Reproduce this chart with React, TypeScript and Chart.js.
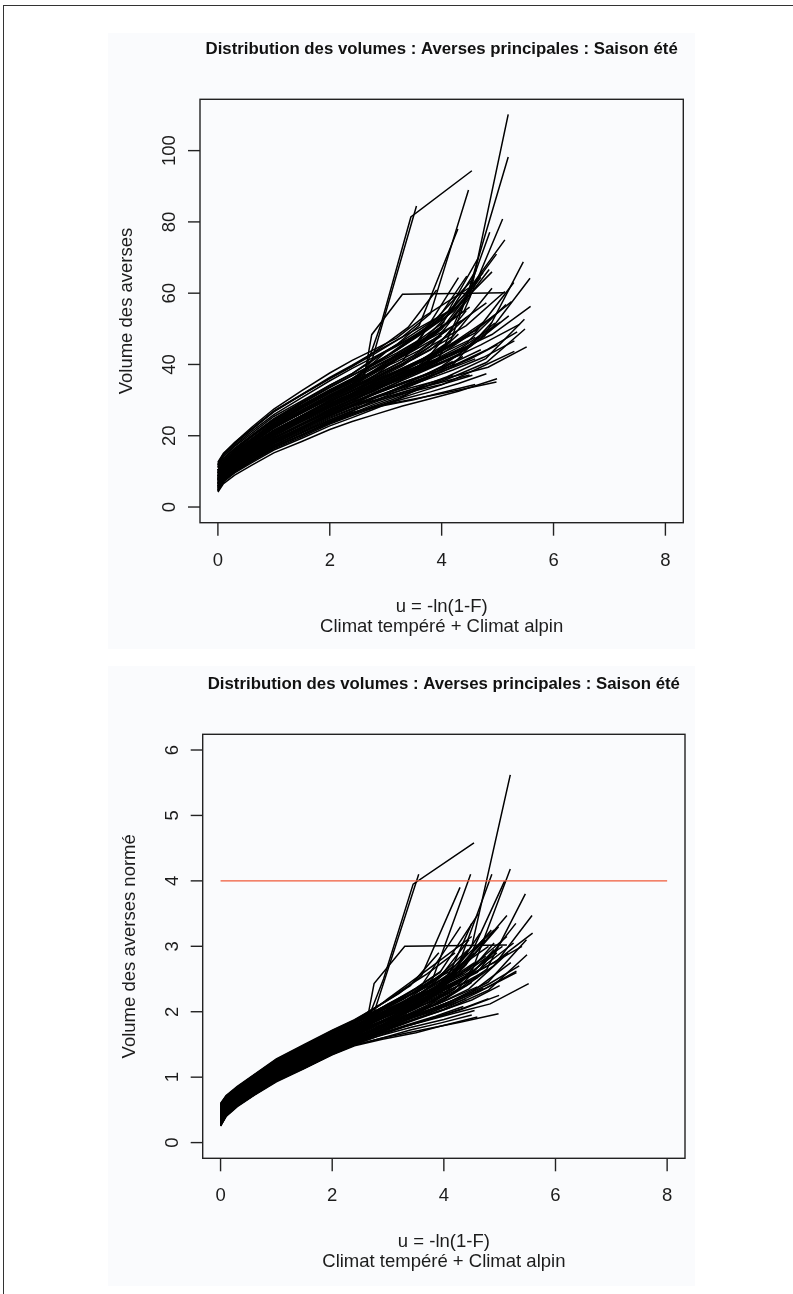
import React, { useEffect, useRef } from 'react';
import { Chart, registerables } from 'chart.js';

Chart.register(...registerables);

// ---------- texts ----------
const TITLE = 'Distribution des volumes : Averses principales : Saison été';
const X_TITLE_LINE1 = 'u = -ln(1-F)';
const X_TITLE_LINE2 = 'Climat tempéré + Climat alpin';
const Y_TITLE_TOP = 'Volume des averses';
const Y_TITLE_BOTTOM = 'Volume des averses normé';

// ---------- ticks / ranges ----------
const X_TICKS = [0, 2, 4, 6, 8];
const Y_TICKS_TOP = [0, 20, 40, 60, 80, 100];
const Y_TICKS_BOTTOM = [0, 1, 2, 3, 4, 5, 6];
const X_RANGE = [-0.32, 8.32];
const Y_RANGE_TOP = [-4.4, 114.4];
const Y_RANGE_BOTTOM = [-0.24, 6.24];
const THRESHOLD_LINE_X = [0, 8];
const THRESHOLD_LINE_Y = 4;

// ---------- data: normed curves (u = -ln(1-F)) ----------
const U_BODY = [0, 0.1, 0.3, 0.6, 1.0, 1.5, 2.0, 2.4];

const NORM_BODY = [
  [0.41, 0.55, 0.70, 0.87, 1.09, 1.31, 1.52, 1.67],
  [0.50, 0.63, 0.77, 0.95, 1.17, 1.39, 1.60, 1.75],
  [0.46, 0.60, 0.74, 0.91, 1.13, 1.35, 1.56, 1.72],
  [0.38, 0.53, 0.68, 0.86, 1.08, 1.30, 1.51, 1.66],
  [0.55, 0.68, 0.82, 1.00, 1.23, 1.45, 1.66, 1.82],
  [0.34, 0.49, 0.64, 0.82, 1.03, 1.24, 1.45, 1.60],
  [0.29, 0.44, 0.59, 0.76, 0.98, 1.18, 1.39, 1.53],
  [0.36, 0.50, 0.65, 0.83, 1.05, 1.26, 1.47, 1.62],
  [0.53, 0.66, 0.80, 0.98, 1.20, 1.42, 1.64, 1.80],
  [0.27, 0.42, 0.57, 0.74, 0.96, 1.16, 1.37, 1.51],
  [0.31, 0.45, 0.60, 0.78, 0.99, 1.20, 1.41, 1.55],
  [0.26, 0.41, 0.56, 0.73, 0.94, 1.14, 1.35, 1.49],
  [0.25, 0.40, 0.55, 0.72, 0.93, 1.13, 1.34, 1.48],
  [0.44, 0.58, 0.72, 0.90, 1.12, 1.33, 1.54, 1.72],
  [0.39, 0.53, 0.67, 0.85, 1.07, 1.28, 1.49, 1.64],
  [0.57, 0.70, 0.84, 1.02, 1.25, 1.47, 1.69, 1.85],
  [0.33, 0.47, 0.62, 0.80, 1.01, 1.22, 1.43, 1.58],
  [0.59, 0.71, 0.85, 1.03, 1.27, 1.49, 1.71, 1.87],
  [0.43, 0.56, 0.71, 0.88, 1.10, 1.31, 1.53, 1.68],
  [0.35, 0.48, 0.64, 0.81, 1.03, 1.24, 1.44, 1.59],
  [0.60, 0.72, 0.86, 1.04, 1.28, 1.50, 1.72, 1.88],
  [0.28, 0.43, 0.58, 0.75, 0.97, 1.17, 1.38, 1.52],
  [0.50, 0.63, 0.76, 0.94, 1.16, 1.38, 1.60, 1.75],
  [0.40, 0.54, 0.69, 0.86, 1.08, 1.30, 1.51, 1.66],
  [0.31, 0.46, 0.61, 0.78, 1.00, 1.20, 1.41, 1.56],
  [0.48, 0.61, 0.75, 0.93, 1.15, 1.37, 1.58, 1.74],
  [0.37, 0.51, 0.65, 0.83, 1.05, 1.26, 1.47, 1.62],
  [0.55, 0.67, 0.81, 0.99, 1.22, 1.44, 1.66, 1.82],
  [0.26, 0.41, 0.56, 0.73, 0.95, 1.15, 1.36, 1.50],
  [0.45, 0.58, 0.72, 0.90, 1.12, 1.34, 1.55, 1.70],
  [0.51, 0.64, 0.78, 0.96, 1.19, 1.40, 1.62, 1.78],
  [0.34, 0.48, 0.63, 0.80, 1.02, 1.23, 1.44, 1.59],
  [0.39, 0.52, 0.67, 0.85, 1.07, 1.28, 1.49, 1.64],
  [0.57, 0.69, 0.83, 1.01, 1.25, 1.47, 1.69, 1.85],
  [0.46, 0.59, 0.73, 0.91, 1.13, 1.35, 1.56, 1.72],
  [0.30, 0.45, 0.60, 0.77, 0.99, 1.19, 1.40, 1.55],
  [0.48, 0.61, 0.75, 0.93, 1.15, 1.37, 1.58, 1.73],
  [0.40, 0.53, 0.68, 0.86, 1.07, 1.29, 1.50, 1.65],
  [0.32, 0.46, 0.61, 0.79, 1.00, 1.21, 1.42, 1.57],
  [0.53, 0.66, 0.80, 0.97, 1.21, 1.42, 1.64, 1.80],
  [0.42, 0.56, 0.70, 0.88, 1.10, 1.32, 1.52, 1.67],
  [0.35, 0.49, 0.63, 0.81, 1.02, 1.24, 1.45, 1.60],
  [0.50, 0.62, 0.77, 0.95, 1.17, 1.39, 1.60, 1.76],
  [0.41, 0.55, 0.69, 0.87, 1.08, 1.30, 1.51, 1.66],
  [0.28, 0.42, 0.57, 0.75, 0.96, 1.16, 1.37, 1.52],
  [0.58, 0.71, 0.85, 1.03, 1.26, 1.48, 1.70, 1.86],
  [0.38, 0.52, 0.66, 0.84, 1.06, 1.27, 1.48, 1.63],
  [0.46, 0.59, 0.73, 0.91, 1.14, 1.35, 1.57, 1.72],
  [0.33, 0.47, 0.62, 0.80, 1.01, 1.22, 1.43, 1.58],
  [0.52, 0.65, 0.79, 0.96, 1.19, 1.41, 1.62, 1.78],
  [0.29, 0.44, 0.59, 0.77, 0.98, 1.18, 1.39, 1.54],
  [0.44, 0.57, 0.72, 0.89, 1.11, 1.33, 1.54, 1.69],
  [0.56, 0.68, 0.82, 1.00, 1.23, 1.45, 1.67, 1.83],
  [0.37, 0.50, 0.65, 0.82, 1.04, 1.26, 1.46, 1.61],
  [0.49, 0.62, 0.76, 0.93, 1.15, 1.37, 1.59, 1.74],
  [0.27, 0.42, 0.57, 0.74, 0.95, 1.15, 1.36, 1.50],
  [0.42, 0.55, 0.70, 0.87, 1.09, 1.31, 1.52, 1.67],
  [0.58, 0.70, 0.84, 1.02, 1.26, 1.48, 1.70, 1.86],
  [0.32, 0.46, 0.61, 0.79, 1.00, 1.21, 1.42, 1.57],
  [0.51, 0.63, 0.77, 0.95, 1.18, 1.40, 1.61, 1.77],
  [0.47, 0.60, 0.74, 0.92, 1.14, 1.36, 1.57, 1.72],
  [0.35, 0.49, 0.63, 0.81, 1.03, 1.24, 1.45, 1.60],
  [0.54, 0.66, 0.80, 0.98, 1.21, 1.43, 1.65, 1.81],
  [0.28, 0.43, 0.58, 0.75, 0.96, 1.16, 1.37, 1.51],
  [0.43, 0.57, 0.71, 0.88, 1.10, 1.32, 1.53, 1.68],
  [0.50, 0.63, 0.77, 0.94, 1.17, 1.39, 1.60, 1.76],
  [0.31, 0.46, 0.61, 0.78, 1.00, 1.20, 1.41, 1.56],
  [0.40, 0.54, 0.69, 0.86, 1.08, 1.30, 1.50, 1.65],
  [0.57, 0.70, 0.84, 1.02, 1.25, 1.47, 1.69, 1.85],
  [0.37, 0.51, 0.65, 0.83, 1.05, 1.26, 1.47, 1.62],
  [0.48, 0.61, 0.75, 0.93, 1.15, 1.37, 1.58, 1.74],
  [0.29, 0.44, 0.59, 0.76, 0.98, 1.18, 1.39, 1.53],
  [0.45, 0.58, 0.72, 0.90, 1.12, 1.34, 1.55, 1.70],
  [0.55, 0.67, 0.81, 0.99, 1.22, 1.44, 1.66, 1.82],
  [0.33, 0.47, 0.62, 0.80, 1.01, 1.22, 1.43, 1.58],
  [0.39, 0.53, 0.67, 0.85, 1.06, 1.28, 1.49, 1.64],
  [0.52, 0.64, 0.78, 0.96, 1.19, 1.41, 1.62, 1.78],
  [0.26, 0.41, 0.56, 0.73, 0.94, 1.14, 1.35, 1.49],
  [0.46, 0.60, 0.74, 0.91, 1.13, 1.35, 1.56, 1.71],
  [0.42, 0.56, 0.70, 0.88, 1.10, 1.31, 1.52, 1.67],
];

const TAIL_U = [
  [2.8, 3.3, 3.8, 4.5, 5.19],
  [2.7, 3.2, 3.7, 4.5, 5.19],
  [2.6, 2.92, 3.45, 4.54],
  [2.75, 3.55],
  [2.8, 3.3, 3.8, 4.48],
  [2.9, 3.5, 4.17, 4.86],
  [2.9, 3.4, 4.0, 4.77, 5.46],
  [2.8, 3.3, 3.9, 4.4, 4.89, 5.58],
  [2.8, 3.4, 4.0, 4.44, 5.13],
  [2.8, 3.4, 4.1, 4.8, 5.49],
  [2.9, 3.5, 4.2, 4.83, 5.52],
  [2.9, 3.6, 4.29, 4.98],
  [2.9, 3.5, 3.9, 4.6],
  [2.62, 2.75, 3.3, 5.13],
  [2.8, 3.3, 3.75, 4.44],
  [2.7, 3.1, 3.6, 4.3],
  [2.7, 3.2, 3.7, 4.2, 4.9],
  [2.7, 3.2, 3.6, 4.29],
  [2.8, 3.3, 3.9, 4.6, 5.29],
  [2.8, 3.2, 3.6, 4.09],
  [2.65, 3.0, 3.4, 3.91],
  [2.75, 3.2, 3.7],
  [2.8, 3.3, 3.8, 4.44, 5.13],
  [2.9, 3.5, 4.0, 4.7],
  [2.9, 3.4, 4.0, 4.62, 5.3],
  [2.7, 3.0, 3.5, 4.05, 4.74],
  [2.85, 3.3, 3.8, 4.38],
  [2.8, 3.2, 3.7, 4.2, 4.9],
  [2.8, 3.3, 3.8, 4.3, 4.99],
  [2.8, 3.3, 3.9, 4.55],
  [2.6, 2.9, 3.4, 3.93, 4.62],
  [2.9, 3.5, 4.1, 4.79, 5.48],
  [2.75, 3.1, 3.5, 4.2],
  [2.7, 3.1, 3.6, 4.29, 4.98],
  [2.8, 3.4, 4.0, 4.6],
  [2.9, 3.4, 3.9, 4.5, 5.2],
  [2.8, 3.2, 3.7, 4.4, 5.09],
  [2.8, 3.3, 3.9, 4.5],
  [2.85, 3.5, 4.2, 4.9],
  [2.8, 3.3, 3.8, 4.3, 4.9, 5.59],
  [2.7, 3.1, 3.6, 4.1],
  [2.8, 3.2, 3.7, 4.3],
  [2.7, 3.2, 3.6, 4.17],
  [2.8, 3.3, 3.7, 4.38],
  [2.7, 3.2, 3.7, 4.2],
  [2.8, 3.3, 3.8, 4.44],
  [2.8, 3.4, 3.9, 4.6],
  [2.9, 3.4, 4.0, 4.7],
  [2.8, 3.3, 3.7],
  [2.8, 3.2, 3.6, 4.09],
  [2.8, 3.3, 3.9, 4.5, 5.0],
  [2.7, 3.2, 3.8, 4.3, 4.95],
  [2.7, 3.1, 3.5, 4.0],
  [2.9, 3.4, 3.9, 4.45, 5.15],
  [2.8, 3.3, 3.8, 4.25],
  [2.8, 3.4, 4.0, 4.55],
  [2.75, 3.15, 3.6, 4.15, 4.85],
  [2.7, 3.0, 3.4, 3.8, 4.5],
  [2.85, 3.35, 3.85, 4.4],
  [2.75, 3.25, 3.75, 4.35, 5.05],
  [2.7, 3.1, 3.5, 3.9, 4.4, 4.95],
  [2.8, 3.2, 3.6, 4.0, 4.5],
  [2.7, 3.0, 3.4, 3.8, 4.3, 4.8],
  [2.8, 3.3, 3.8, 4.3, 4.8],
  [2.7, 3.1, 3.5, 4.0, 4.6, 5.25],
  [2.75, 3.2, 3.6, 4.05],
  [2.8, 3.3, 3.7, 4.15, 4.7],
  [2.75, 3.2, 3.6, 4.1, 4.65],
  [2.65, 2.95, 3.3, 3.7, 4.2],
  [2.85, 3.3, 3.75, 4.25, 4.8, 5.35],
  [2.75, 3.15, 3.55, 4.0, 4.55],
  [2.85, 3.35, 3.85, 4.35],
  [2.7, 3.1, 3.5, 3.95, 4.45],
  [2.7, 3.1, 3.5, 3.95],
  [2.8, 3.25, 3.7, 4.2, 4.75, 5.3],
  [2.8, 3.2, 3.6, 4.05],
  [2.75, 3.2, 3.65, 4.15, 4.75],
  [2.9, 3.4, 3.95, 4.5],
  [2.8, 3.2, 3.6, 4.1, 4.7, 5.4],
  [2.7, 3.0, 3.4, 3.85, 4.35],
];

const TAIL_V = [
  [1.82, 2.02, 2.3, 3.0, 5.62],
  [1.85, 2.02, 2.28, 2.62, 4.18],
  [1.8, 2.5, 3.95, 4.58],
  [1.99, 4.1],
  [1.98, 2.2, 2.5, 4.1],
  [1.8, 2.05, 2.5, 4.1],
  [1.72, 1.92, 2.18, 2.65, 3.8],
  [1.76, 1.98, 2.2, 2.4, 2.7, 3.47],
  [1.95, 2.18, 2.45, 2.78, 3.47],
  [1.66, 1.85, 2.06, 2.33, 2.87],
  [1.68, 1.82, 1.98, 2.12, 2.43],
  [1.6, 1.72, 1.84, 1.97],
  [1.58, 1.68, 1.77, 1.92],
  [1.85, 2.43, 3.0, 3.02],
  [1.8, 2.0, 2.2, 2.9],
  [1.98, 2.15, 2.4, 3.3],
  [1.72, 1.9, 2.1, 2.35, 3.05],
  [2.02, 2.28, 2.55, 3.9],
  [1.86, 2.06, 2.3, 2.6, 3.35],
  [1.76, 1.94, 2.15, 2.55],
  [2.0, 2.18, 2.4, 2.9],
  [1.65, 1.82, 2.08],
  [1.9, 2.1, 2.35, 2.65, 3.15],
  [1.86, 2.12, 2.4, 3.1],
  [1.7, 1.86, 2.04, 2.3, 2.6],
  [1.86, 2.05, 2.25, 2.5, 3.1],
  [1.76, 1.93, 2.1, 2.4],
  [1.98, 2.17, 2.42, 2.7, 3.25],
  [1.62, 1.77, 1.9, 2.03, 2.25],
  [1.9, 2.12, 2.4, 2.9],
  [1.88, 2.02, 2.3, 2.6, 3.5],
  [1.76, 1.95, 2.15, 2.45, 3.1],
  [1.78, 1.9, 2.05, 2.35],
  [1.98, 2.14, 2.34, 2.62, 3.3],
  [1.86, 2.08, 2.3, 2.52],
  [1.72, 1.9, 2.08, 2.3, 2.75],
  [1.9, 2.1, 2.35, 2.72, 4.0],
  [1.8, 2.0, 2.2, 3.35],
  [1.76, 2.0, 2.3, 2.95],
  [1.94, 2.12, 2.3, 2.5, 2.75, 3.2],
  [1.8, 1.94, 2.12, 2.3],
  [1.74, 1.9, 2.06, 2.5],
  [1.9, 2.08, 2.28, 2.7],
  [1.82, 2.02, 2.2, 2.7],
  [1.64, 1.8, 1.96, 2.16],
  [2.0, 2.22, 2.45, 2.95],
  [1.78, 1.96, 2.12, 2.38],
  [1.9, 2.06, 2.28, 2.6],
  [1.76, 1.95, 2.35],
  [1.92, 2.06, 2.22, 2.5],
  [1.68, 1.84, 2.0, 2.18, 2.4],
  [1.84, 2.02, 2.24, 2.45, 2.95],
  [1.95, 2.12, 2.3, 2.6],
  [1.78, 1.95, 2.12, 2.35, 2.9],
  [1.88, 2.05, 2.25, 2.45],
  [1.62, 1.76, 1.88, 2.02],
  [1.84, 2.02, 2.25, 2.55, 3.25],
  [2.0, 2.2, 2.45, 2.7, 3.15],
  [1.72, 1.88, 2.02, 2.2],
  [1.92, 2.1, 2.32, 2.58, 3.0],
  [1.86, 2.0, 2.16, 2.32, 2.55, 2.9],
  [1.74, 1.88, 2.02, 2.18, 2.45],
  [1.96, 2.12, 2.3, 2.48, 2.7, 3.0],
  [1.64, 1.78, 1.9, 2.04, 2.2],
  [1.83, 1.98, 2.14, 2.34, 2.62, 3.05],
  [1.94, 2.12, 2.3, 2.55],
  [1.7, 1.86, 1.99, 2.14, 2.36],
  [1.84, 2.02, 2.22, 2.5, 3.2],
  [2.0, 2.16, 2.36, 2.58, 2.9],
  [1.76, 1.9, 2.04, 2.2, 2.42, 2.7],
  [1.9, 2.06, 2.24, 2.44, 2.75],
  [1.66, 1.8, 1.93, 2.08],
  [1.88, 2.06, 2.28, 2.55, 3.1],
  [1.98, 2.16, 2.36, 2.62],
  [1.72, 1.86, 2.0, 2.16, 2.36, 2.62],
  [1.8, 1.95, 2.12, 2.36],
  [1.94, 2.1, 2.28, 2.5, 2.85],
  [1.6, 1.72, 1.83, 1.95],
  [1.88, 2.04, 2.2, 2.4, 2.66, 3.0],
  [1.85, 1.98, 2.14, 2.34, 2.6],
];

// mean volume of each series (normed volume = volume / mean)
const MEAN_VOLUME = [
  19.6, 23.5, 20.6, 20.6, 21.7, 18.8, 18.1, 18.5, 21.6, 17.4,
  18.5, 17.8, 17.9, 19.9, 19.0, 19.5, 17.0, 20.0, 18.8, 18.0,
  21.0, 16.5, 19.2, 20.8, 16.8, 21.2, 17.6, 20.3, 16.0, 22.0,
  19.0, 17.0, 15.8, 21.5, 16.5, 19.5, 20.2, 18.2, 20.8, 17.6,
  18.4, 19.4, 17.2, 21.5, 18.9, 18.0, 20.0, 16.6, 21.0, 19.8,
  19.0, 17.5, 18.5, 19.6, 18.7, 18.3, 20.5, 17.8, 20.3, 17.3,
  18.6, 19.7, 19.1, 17.0, 18.9, 20.4, 18.7, 21.8, 19.3, 18.2,
  17.9, 20.6, 20.9, 18.8, 17.8, 19.3, 18.2, 19.0, 17.1, 20.1,
];

// ---------- drawing helpers ----------
const FONT = '"Liberation Sans", Arial, Helvetica, sans-serif';
const TEXT_COLOR = '#1c1c1c';

type PanelCfg = {
  yTicks: number[];
  yTitle: string;
};

const rAxesPlugin = {
  id: 'rAxes',
  afterDraw(chart: any, _args: any, opts: any) {
    const { ctx, chartArea: a, scales } = chart;
    const xs = scales.x;
    const ys = scales.y;
    const cfg: PanelCfg = opts.cfg;
    ctx.save();
    ctx.strokeStyle = '#222';
    ctx.lineWidth = 1.4;
    ctx.strokeRect(a.left, a.top, a.right - a.left, a.bottom - a.top);

    ctx.fillStyle = TEXT_COLOR;
    ctx.textAlign = 'center';
    ctx.textBaseline = 'middle';

    // x axis ticks
    ctx.font = `18.5px ${FONT}`;
    X_TICKS.forEach((t) => {
      const px = xs.getPixelForValue(t);
      ctx.beginPath();
      ctx.moveTo(px, a.bottom);
      ctx.lineTo(px, a.bottom + 13);
      ctx.stroke();
      ctx.fillText(String(t), px, a.bottom + 38);
    });
    // y axis ticks (labels parallel to axis)
    cfg.yTicks.forEach((t) => {
      const py = ys.getPixelForValue(t);
      ctx.beginPath();
      ctx.moveTo(a.left, py);
      ctx.lineTo(a.left - 12, py);
      ctx.stroke();
      ctx.save();
      ctx.translate(a.left - 30, py);
      ctx.rotate(-Math.PI / 2);
      ctx.fillText(String(t), 0, 0);
      ctx.restore();
    });

    const cx = (a.left + a.right) / 2;
    const cy = (a.top + a.bottom) / 2;
    // axis titles
    ctx.fillText(X_TITLE_LINE1, cx, a.bottom + 84);
    ctx.fillText(X_TITLE_LINE2, cx, a.bottom + 104);
    ctx.save();
    ctx.translate(a.left - 73, cy);
    ctx.rotate(-Math.PI / 2);
    ctx.fillText(cfg.yTitle, 0, 0);
    ctx.restore();

    // main title
    ctx.font = `bold 16.8px ${FONT}`;
    ctx.fillStyle = '#111';
    ctx.fillText(TITLE, cx, a.top - 50);
    ctx.restore();
  },
};

function buildCurves(normed: boolean) {
  return NORM_BODY.map((body, i) => {
    const k = normed ? 1 : MEAN_VOLUME[i];
    const pts = U_BODY.map((u, j) => ({ x: u, y: body[j] * k }));
    TAIL_U[i].forEach((u, j) => pts.push({ x: u, y: TAIL_V[i][j] * k }));
    return {
      data: pts,
      borderColor: '#000',
      borderWidth: 1.5,
      pointRadius: 0,
      fill: false,
      tension: 0,
      order: 1,
    };
  });
}

function makeConfig(
  normed: boolean,
  yRange: number[],
  pad: { left: number; right: number; top: number; bottom: number },
  cfg: PanelCfg
) {
  const datasets: any[] = buildCurves(normed);
  if (normed) {
    datasets.unshift({
      data: THRESHOLD_LINE_X.map((u) => ({ x: u, y: THRESHOLD_LINE_Y })),
      borderColor: '#ef5a38',
      borderWidth: 1.4,
      pointRadius: 0,
      fill: false,
      tension: 0,
      order: 0,
    });
  }
  return {
    type: 'line' as const,
    data: { datasets },
    options: {
      responsive: false,
      animation: false as const,
      events: [],
      layout: { padding: pad },
      plugins: {
        legend: { display: false },
        tooltip: { enabled: false },
        rAxes: { cfg },
      },
      scales: {
        x: { type: 'linear' as const, min: X_RANGE[0], max: X_RANGE[1], display: false },
        y: { type: 'linear' as const, min: yRange[0], max: yRange[1], display: false },
      },
    },
    plugins: [rAxesPlugin],
  };
}

function Panel(props: {
  top: number;
  height: number;
  normed: boolean;
  yRange: number[];
  pad: { left: number; right: number; top: number; bottom: number };
  cfg: PanelCfg;
}) {
  const ref = useRef<HTMLCanvasElement | null>(null);
  useEffect(() => {
    if (!ref.current) return;
    const chart = new Chart(ref.current, makeConfig(props.normed, props.yRange, props.pad, props.cfg) as any);
    return () => chart.destroy();
  }, []);
  return (
    <canvas
      ref={ref}
      width={793}
      height={props.height}
      style={{ position: 'absolute', left: 0, top: props.top, width: 793, height: props.height, display: 'block' }}
    />
  );
}

export default function App() {
  return (
    <div style={{ position: 'absolute', left: 0, top: 0, width: 793, height: 1294, background: '#fff', overflow: 'hidden' }}>
      <div style={{ position: 'absolute', left: 3, top: 5, width: 800, height: 1300, borderLeft: '1px solid #333', borderTop: '1px solid #333' }} />
      <div style={{ position: 'absolute', left: 108, top: 33, width: 587, height: 616, background: '#fafbfd' }} />
      <div style={{ position: 'absolute', left: 108, top: 666, width: 587, height: 620, background: '#fafbfd' }} />
      <Panel
        top={0}
        height={640}
        normed={false}
        yRange={Y_RANGE_TOP}
        pad={{ left: 200, right: 109.7, top: 99.3, bottom: 117.3 }}
        cfg={{ yTicks: Y_TICKS_TOP, yTitle: Y_TITLE_TOP }}
      />
      <Panel
        top={640}
        height={654}
        normed={true}
        yRange={Y_RANGE_BOTTOM}
        pad={{ left: 202.7, right: 108, top: 94.3, bottom: 135.7 }}
        cfg={{ yTicks: Y_TICKS_BOTTOM, yTitle: Y_TITLE_BOTTOM }}
      />
    </div>
  );
}
